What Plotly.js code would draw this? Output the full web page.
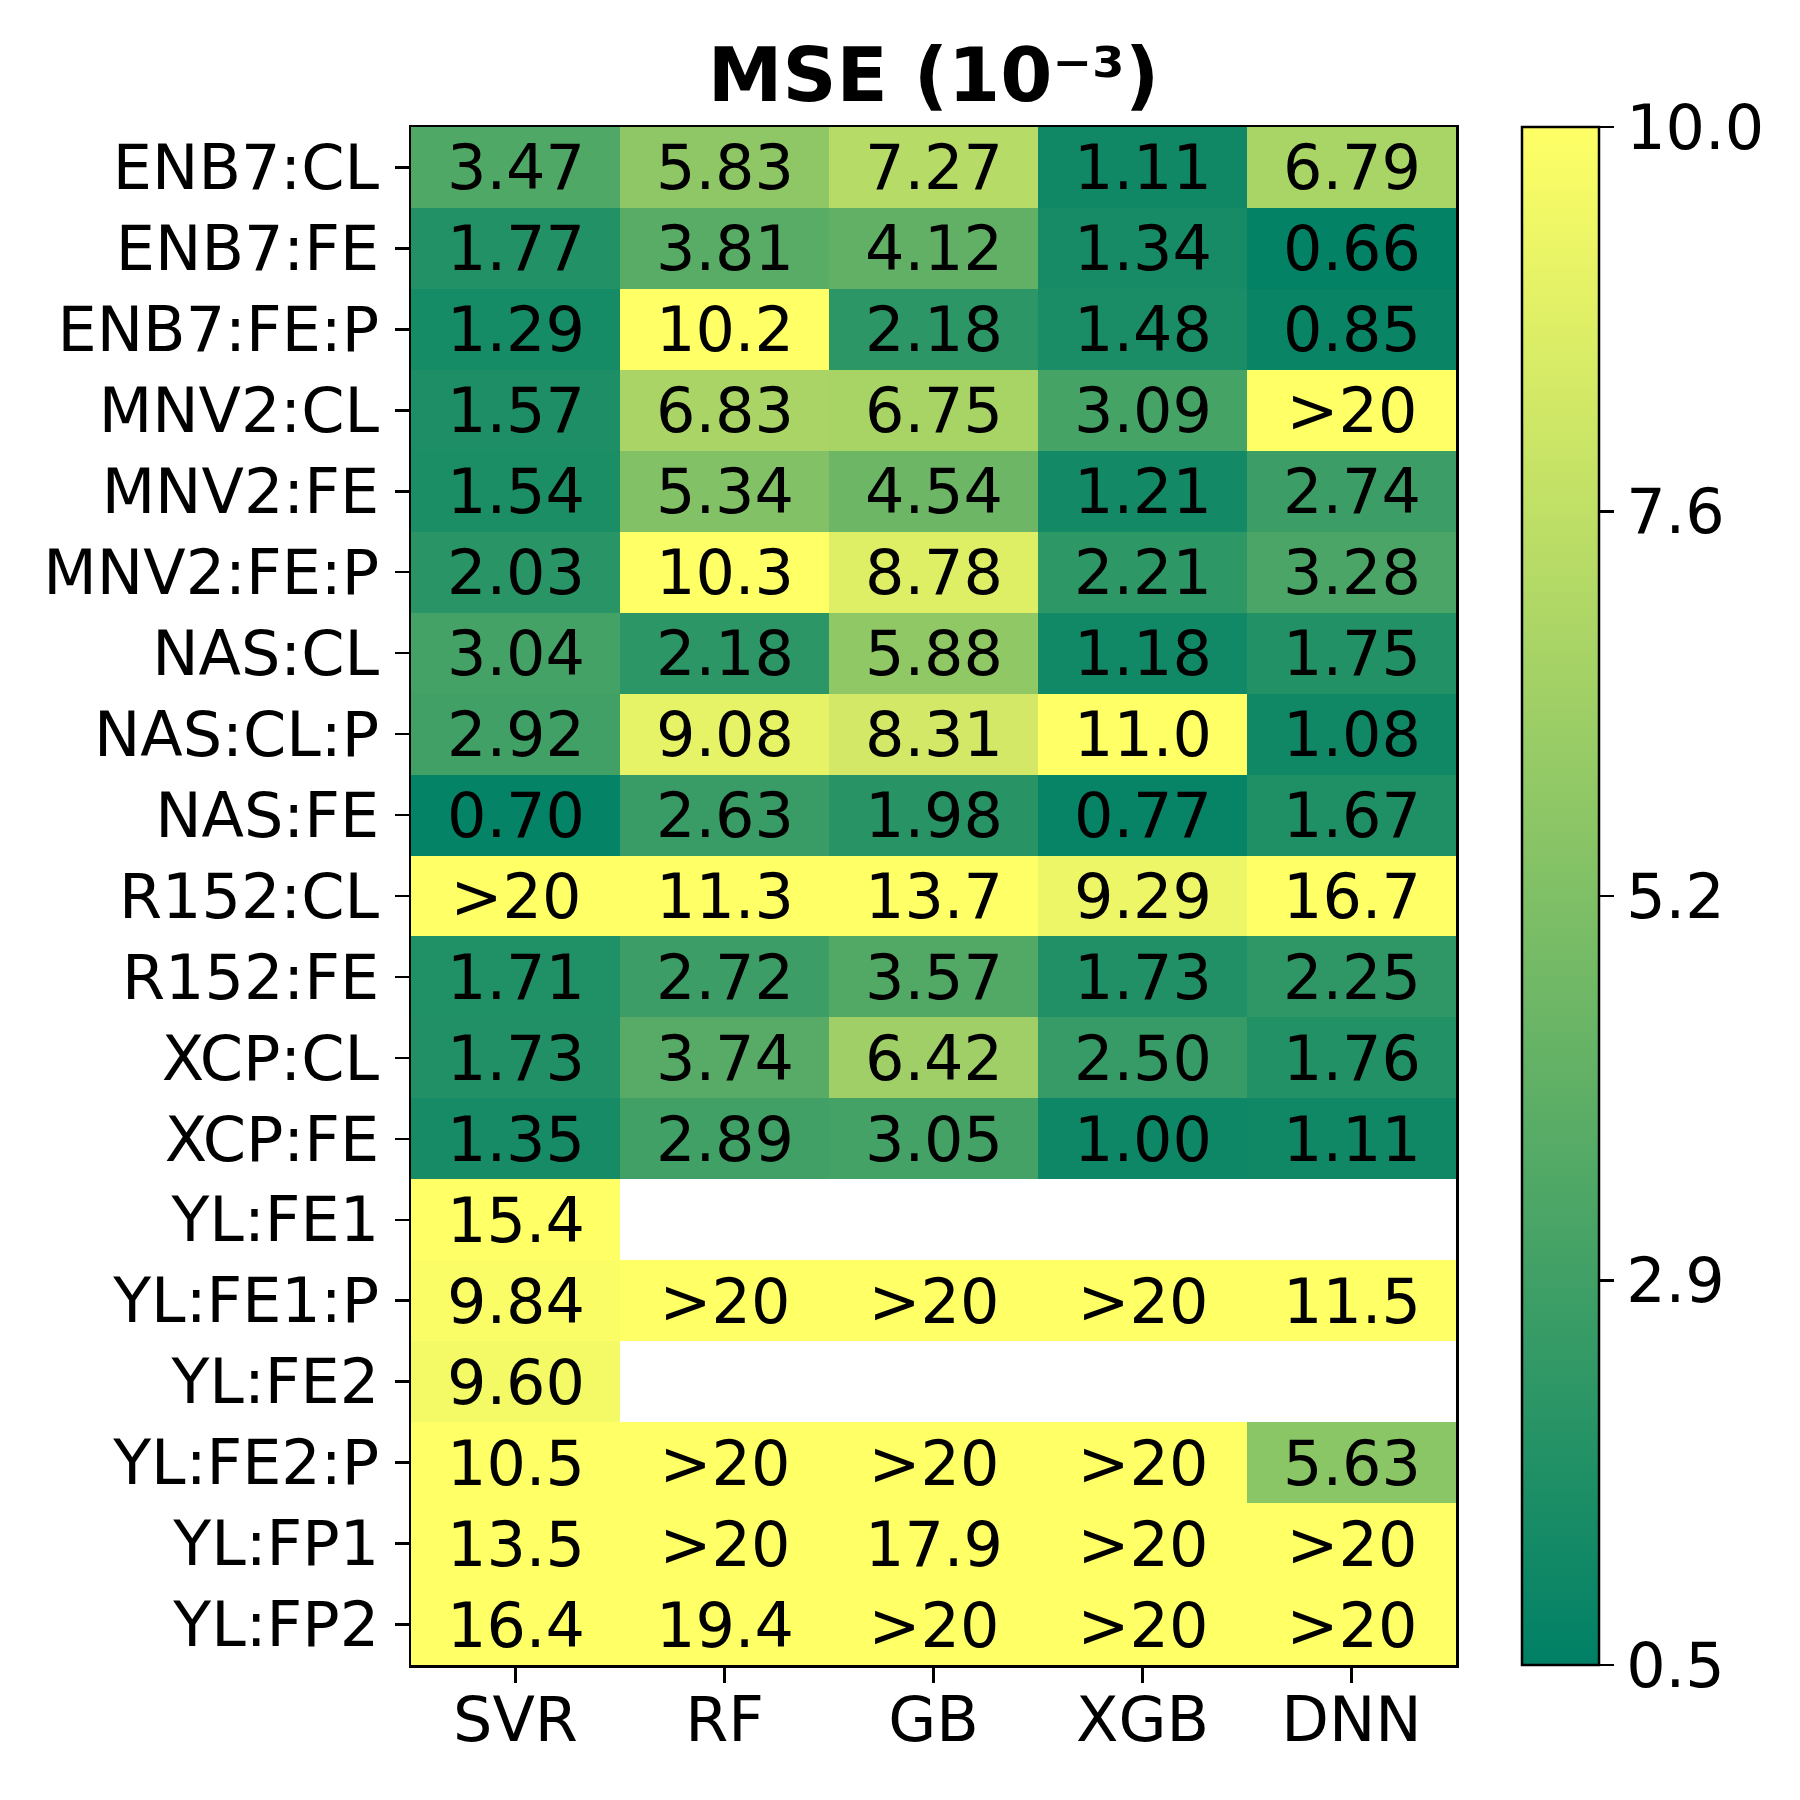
<!DOCTYPE html>
<html>
<head>
<meta charset="utf-8">
<script src="https://cdn.plot.ly/plotly-3.0.1.min.js"></script>
<style>html,body{margin:0;padding:0;background:#fff;}#chart{width:1800px;height:1800px;}</style>
</head>
<body>
<div id="chart"></div>
<script>
// Marker meaning "value above 20" (shown as ">20", coloured at the top of the scale)
const OVER = ">20";

const models = ["SVR", "RF", "GB", "XGB", "DNN"];
const datasets = ["ENB7:CL", "ENB7:FE", "ENB7:FE:P", "MNV2:CL", "MNV2:FE", "MNV2:FE:P",
  "NAS:CL", "NAS:CL:P", "NAS:FE", "R152:CL", "R152:FE", "XCP:CL", "XCP:FE",
  "YL:FE1", "YL:FE1:P", "YL:FE2", "YL:FE2:P", "YL:FP1", "YL:FP2"];

const svr = [3.47, 1.77, 1.29, 1.57, 1.54, 2.03, 3.04, 2.92, 0.70, OVER, 1.71, 1.73, 1.35, 15.4, 9.84, 9.60, 10.5, 13.5, 16.4];
const rf  = [5.83, 3.81, 10.2, 6.83, 5.34, 10.3, 2.18, 9.08, 2.63, 11.3, 2.72, 3.74, 2.89, null, OVER, null, OVER, OVER, 19.4];
const gb  = [7.27, 4.12, 2.18, 6.75, 4.54, 8.78, 5.88, 8.31, 1.98, 13.7, 3.57, 6.42, 3.05, null, OVER, null, OVER, 17.9, OVER];
const xgb = [1.11, 1.34, 1.48, 3.09, 1.21, 2.21, 1.18, 11.0, 0.77, 9.29, 1.73, 2.50, 1.00, null, OVER, null, OVER, OVER, OVER];
const dnn = [6.79, 0.66, 0.85, OVER, 2.74, 3.28, 1.75, 1.08, 1.67, 16.7, 2.25, 1.76, 1.11, null, 11.5, null, 5.63, OVER, OVER];

const cbTickVals = [0.5, 2.875, 5.25, 7.625, 10.0];
const cbTickText = ["0.5", "2.9", "5.2", "7.6", "10.0"];
const zMin = 0.5, zMax = 10.0;

const columns = [svr, rf, gb, xgb, dnn];

function fmt(v) {
  if (v === null) return "";
  if (v === OVER) return ">20";
  return v < 10 ? v.toFixed(2) : v.toFixed(1);
}
function colourValue(v) {
  if (v === null) return null;
  if (v === OVER) return 20;
  return v;
}

const z = datasets.map((d, i) => columns.map(col => colourValue(col[i])));
const text = datasets.map((d, i) => columns.map(col => fmt(col[i])));

const FONT = "DejaVu Sans, Liberation Sans, sans-serif";

const trace = {
  type: "heatmap",
  x: models,
  y: datasets,
  z: z,
  text: text,
  texttemplate: "%{text}",
  textfont: {family: FONT, size: 62, color: "#000"},
  zmin: zMin,
  zmax: zMax,
  colorscale: [[0, "rgb(0,128,102)"], [1, "rgb(255,255,102)"]],
  xgap: 0, ygap: 0,
  hoverongaps: false,
  colorbar: {
    xref: "container",
    x: 1522 / 1800,
    xanchor: "left",
    xpad: 0,
    thickness: 77,
    thicknessmode: "pixels",
    len: 1, lenmode: "fraction",
    y: 0.5, yanchor: "middle", ypad: 0,
    outlinewidth: 2.5, outlinecolor: "#000",
    tickmode: "array",
    tickvals: cbTickVals,
    ticktext: cbTickText,
    ticks: "outside", ticklen: 14, tickwidth: 2.5, tickcolor: "#000",
    tickfont: {family: FONT, size: 62, color: "#000"}
  }
};

const layout = {
  width: 1800, height: 1800,
  margin: {l: 411, r: 344, t: 127, b: 135, pad: 0},
  paper_bgcolor: "#fff", plot_bgcolor: "#fff",
  font: {family: FONT, color: "#000"},
  title: {
    text: "<b>MSE (10⁻³)</b>",
    font: {family: FONT, size: 75, color: "#000"},
    xref: "paper", x: 0.5, xanchor: "center",
    yref: "container", y: 1 - 75 / 1800, yanchor: "middle"
  },
  xaxis: {
    type: "category",
    showline: true, mirror: true, linecolor: "#000", linewidth: 2.5,
    ticks: "outside", ticklen: 15, tickwidth: 2.5, tickcolor: "#000",
    tickfont: {family: FONT, size: 62, color: "#000"},
    showgrid: false, zeroline: false,
    ticklabelstandoff: -16
  },
  yaxis: {
    type: "category",
    autorange: "reversed",
    showline: true, mirror: true, linecolor: "#000", linewidth: 2.5,
    ticks: "outside", ticklen: 14, tickwidth: 2.5, tickcolor: "#000",
    tickfont: {family: FONT, size: 62, color: "#000"},
    showgrid: false, zeroline: false,
    ticklabelstandoff: 3
  }
};

Plotly.newPlot("chart", [trace], layout, {displayModeBar: false, staticPlot: true});
</script>
</body>
</html>
